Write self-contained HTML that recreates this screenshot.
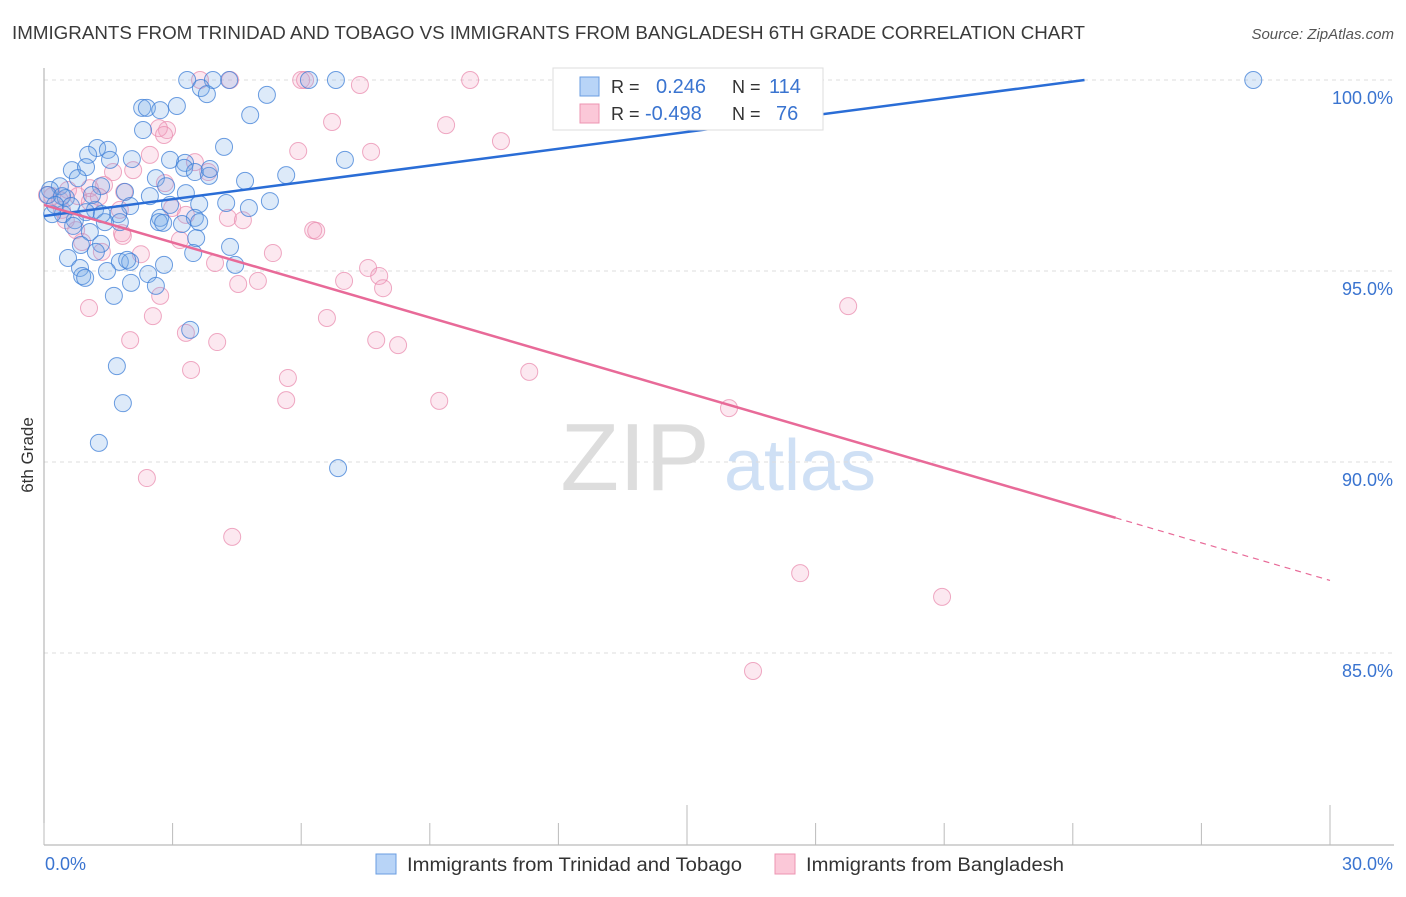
<!DOCTYPE html>
<html><head><meta charset="utf-8"><style>
body{margin:0;background:#fff;font-family:"Liberation Sans",sans-serif;}
svg text{font-family:"Liberation Sans",sans-serif;}
</style></head><body>
<svg id="chart" width="1406" height="892" viewBox="0 0 1406 892" xmlns="http://www.w3.org/2000/svg">
<text x="12" y="39" font-size="18" fill="#3a3a3a" textLength="1073" lengthAdjust="spacingAndGlyphs">IMMIGRANTS FROM TRINIDAD AND TOBAGO VS IMMIGRANTS FROM BANGLADESH 6TH GRADE CORRELATION CHART</text>
<text x="1394" y="39" font-size="15" fill="#555" font-style="italic" text-anchor="end">Source: ZipAtlas.com</text>
<g>
<text x="635" y="490" font-size="96" fill="#ddd" font-family="Liberation Serif,serif" text-anchor="middle">ZIP</text>
<text x="800" y="490" font-size="72" fill="#cfe0f5" text-anchor="middle">atlas</text>
</g>
<text transform="translate(33,455) rotate(-90)" font-size="17" fill="#333" text-anchor="middle">6th Grade</text>
<g id="grid"></g><g id="axes"></g><g id="pink"></g><g id="blue"></g><g id="lines"></g>
<g>
<rect x="553" y="68" width="270" height="62" fill="#fff" stroke="#ddd"/>
<rect x="580" y="77" width="19" height="19" fill="#b8d4f7" stroke="#6a9de0"/>
<text x="611" y="93" font-size="18" fill="#333">R = </text><text x="656" y="93" font-size="20" fill="#3a74d0">0.246</text>
<text x="732" y="93" font-size="18" fill="#333">N = </text><text x="769" y="93" font-size="20" fill="#3a74d0">114</text>
<rect x="580" y="104" width="19" height="19" fill="#fbc8d8" stroke="#ec94b2"/>
<text x="611" y="120" font-size="18" fill="#333">R = </text><text x="645" y="120" font-size="20" fill="#3a74d0">-0.498</text>
<text x="732" y="120" font-size="18" fill="#333">N = </text><text x="776" y="120" font-size="20" fill="#3a74d0">76</text>
</g>
<g>
<rect x="376" y="854" width="20" height="20" fill="#b8d4f7" stroke="#6a9de0"/>
<text x="407" y="871" font-size="19" fill="#333" textLength="335" lengthAdjust="spacingAndGlyphs">Immigrants from Trinidad and Tobago</text>
<rect x="775" y="854" width="20" height="20" fill="#fbc8d8" stroke="#ec94b2"/>
<text x="806" y="871" font-size="19" fill="#333" textLength="258" lengthAdjust="spacingAndGlyphs">Immigrants from Bangladesh</text>
</g>
</svg>
<script>
const yTicks=[100,95,90,85];
const yTickLabels=["100.0%","95.0%","90.0%","85.0%"];
const xTickLabels=["0.0%","30.0%"];
const blueX=[3.34,3.94,4.32,6.18,6.81,28.21,3.66,3.80,5.20,2.29,2.40,3.10,2.71,4.81,2.31,4.20,1.24,1.49,1.03,2.05,2.94,7.02,0.65,0.98,1.54,3.29,3.27,3.52,3.85,4.69,5.65,0.79,1.89,2.61,2.85,3.31,1.33,0.37,0.14,0.09,0.51,5.27,4.25,4.78,3.62,2.94,2.01,1.73,1.19,0.98,0.72,0.44,0.19,2.71,2.68,2.78,3.52,3.62,1.77,1.42,0.68,3.22,1.07,3.55,4.34,1.33,0.86,1.21,0.56,3.48,1.77,2.01,1.94,2.80,0.84,0.89,0.96,4.46,1.47,2.43,2.03,2.61,1.63,3.41,1.70,1.84,1.28,6.86,0.42,0.26,0.63,1.35,1.12,2.47,3.87];
const blueY=[100,100,100,100,100,100,99.79,99.63,99.61,99.27,99.27,99.32,99.21,99.08,98.69,98.25,98.22,98.17,98.04,97.93,97.91,97.91,97.64,97.72,97.91,97.83,97.70,97.59,97.49,97.36,97.51,97.43,97.07,97.43,97.22,97.04,97.22,97.22,97.12,96.99,96.91,96.83,96.78,96.65,96.75,96.73,96.70,96.49,96.60,96.54,96.33,96.49,96.49,96.39,96.28,96.26,96.39,96.28,96.28,96.28,96.18,96.23,96.02,95.86,95.63,95.71,95.68,95.50,95.34,95.47,95.24,95.24,95.29,95.16,95.08,94.87,94.82,95.16,95.00,94.92,94.69,94.61,94.35,93.46,92.51,91.54,90.50,89.84,96.96,96.73,96.70,96.49,96.99,96.96,97.67];
const pinkX=[6.00,6.09,3.64,4.34,9.94,7.37,6.72,9.38,10.66,2.87,2.68,2.80,2.47,5.93,7.63,3.52,3.83,1.61,2.08,1.40,1.07,2.82,1.87,0.56,0.19,0.79,0.42,1.07,1.77,2.99,3.31,4.29,4.64,6.28,6.35,1.82,1.84,3.17,0.75,0.89,2.26,1.35,5.34,3.99,7.56,7.82,7.91,7.00,4.99,4.53,2.71,1.05,2.54,6.60,3.31,2.01,4.04,7.75,8.26,18.76,3.43,11.32,5.69,5.65,9.22,15.98,2.40,4.39,17.64,20.95,16.54,0.37,0.07,1.28,0.51];
const pinkY=[100,100,100,100,100,99.87,98.90,98.82,98.40,98.69,98.74,98.56,98.04,98.14,98.12,97.85,97.59,97.59,97.64,97.25,97.17,97.30,97.07,97.12,96.96,96.96,96.60,96.81,96.60,96.65,96.47,96.39,96.33,96.07,96.05,95.99,95.92,95.81,96.07,95.76,95.44,95.50,95.47,95.21,95.08,94.87,94.55,94.74,94.74,94.66,94.35,94.03,93.82,93.77,93.38,93.19,93.14,93.19,93.06,94.08,92.41,92.36,92.20,91.62,91.60,91.41,89.58,88.04,87.09,86.47,84.53,96.86,96.99,96.94,96.33];
const blueTrend=[96.44,100.84];
const pinkTrend=[96.73,86.9];
const pinkSolidEnd=25.0;
const NS='http://www.w3.org/2000/svg';
const X=v=>44+v/30*1286;
const Y=v=>80+(100-v)*38.2;
function mk(tag,parent,attrs){const e=document.createElementNS(NS,tag);for(const k in attrs)e.setAttribute(k,attrs[k]);document.getElementById(parent).appendChild(e);return e;}
yTicks.forEach((t,i)=>{
 const l=mk('line','grid',{x1:44,x2:1394,y1:Y(t),y2:Y(t),stroke:'#ddd','stroke-dasharray':'4,4'});
 
 
 const tx=mk('text','grid',{x:1393,y:Y(t)+24,'font-size':18,fill:'#3a74d0','text-anchor':'end'});
 tx.textContent=yTickLabels[i];
 
 
});
const ya=mk('line','axes',{x1:44,x2:44,y1:68,y2:845,stroke:'#aaa'});


const xa=mk('line','axes',{x1:44,x2:1394,y1:845,y2:845,stroke:'#aaa'});


for(let i=0;i<=10;i++){
 const v=i*3;const tall=(i===5||i===10);
 const t=mk('line','axes',{x1:X(v),x2:X(v),y1:tall?805:823,y2:845,stroke:'#bbb'});
 
 
}
[0,30].forEach((v,i)=>{
 const t=mk('text','axes',{x:i?1393:45,y:870,'font-size':18,fill:'#3a74d0','text-anchor':i?'end':'start'});
 t.textContent=xTickLabels[i];
 
 
});
pinkX.forEach((x,i)=>{
 const c=mk('circle','pink',{cx:X(x),cy:Y(pinkY[i]),r:8.5,fill:'rgba(244,165,195,0.25)',stroke:'rgba(234,140,175,0.75)','stroke-width':1});
 
 
});
blueX.forEach((x,i)=>{
 const c=mk('circle','blue',{cx:X(x),cy:Y(blueY[i]),r:8.5,fill:'rgba(120,170,230,0.25)',stroke:'rgba(60,125,215,0.75)','stroke-width':1});
 
 
});
const bx100=30*(100-blueTrend[0])/(blueTrend[1]-blueTrend[0]);
const bl=mk('line','lines',{x1:X(0),y1:Y(blueTrend[0]),x2:X(Math.min(30,bx100)),y2:Y(Math.min(100,blueTrend[1])),stroke:'#2a6dd6','stroke-width':2.5});


const pv=x=>pinkTrend[0]+(pinkTrend[1]-pinkTrend[0])*x/30;
const pl=mk('line','lines',{x1:X(0),y1:Y(pv(0)),x2:X(pinkSolidEnd),y2:Y(pv(pinkSolidEnd)),stroke:'#e86a98','stroke-width':2.5});


const pd=mk('line','lines',{x1:X(pinkSolidEnd),y1:Y(pv(pinkSolidEnd)),x2:X(30),y2:Y(pv(30)),stroke:'#e86a98','stroke-width':1.2,'stroke-dasharray':'6,5'});


</script>
</body></html>
